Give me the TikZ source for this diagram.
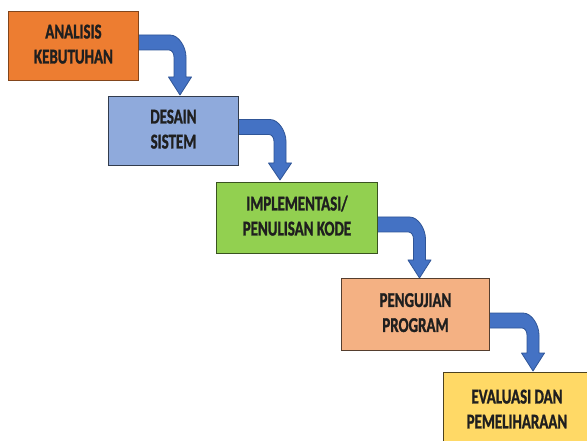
\documentclass[tikz,border=0pt]{standalone}
\usepackage{fontspec}
\setmainfont{Carlito}[BoldFont={Carlito Bold}, BoldFeatures={FakeBold=1.6}]
\usepackage{graphicx}
\usetikzlibrary{calc}

\definecolor{orangefill}{HTML}{ED7D31}
\definecolor{bluefill}{HTML}{8FAADC}
\definecolor{greenfill}{HTML}{92D050}
\definecolor{salmonfill}{HTML}{F4B183}
\definecolor{yellowfill}{HTML}{FFD966}
\definecolor{arrowfill}{HTML}{4472C4}
\definecolor{arrowline}{HTML}{2F5597}

% two centred lines, condensed horizontally
\newcommand{\steptext}[2]{\scalebox{0.71}[1]{\begin{tabular}{@{}c@{}}#1\\#2\end{tabular}}}

% bent block arrow: #1 start x, #2 shaft centre y, #3 stem centre x, #4 head base y, #5 tip y
\newcommand{\bentarrow}[5]{%
  \filldraw[blockarrow]
    (#1, #2-7.5) -- (#3+6-16, #2-7.5)
    .. controls (#3+6-7.2, #2-7.5) and (#3+6, #2-7.5+12.1) .. (#3+6, #2-7.5+22)
    -- (#3+6, #4) -- (#3+11.5, #4) -- (#3, #5) -- (#3-11.5, #4) -- (#3-6, #4)
    -- (#3-6, #2+7.5+7)
    .. controls (#3-6, #2+7.5+3.1) and (#3-6-2.2, #2+7.5) .. (#3-6-5, #2+7.5)
    -- (#1, #2+7.5) -- cycle;}

\tikzset{
  stepbox/.style={draw, line width=0.9pt, rectangle, anchor=north west,
    inner sep=0pt, font=\fontsize{21}{25}\selectfont\bfseries, text=black!88},
  blockarrow/.style={fill=arrowfill, draw=arrowline, line width=0.8pt, line join=round},
}

\begin{document}
\begin{tikzpicture}[x=1pt, y=-1pt]
\useasboundingbox (0,0) rectangle (587,441);
\fill[white] (0,0) rectangle (587,441);
\clip (0,0) rectangle (587,441);

% connectors between the stages
\bentarrow{134}{42.5}{180}{77}{95}
\bentarrow{234}{127}{280}{163}{180}
\bentarrow{373}{224.5}{419.5}{260}{278}
\bentarrow{485}{320.5}{533}{353}{371}

% stages
\node[stepbox, fill=orangefill, draw=orangefill!55!black,
  minimum width=130pt, minimum height=69pt] (b1) at (8,11)
  {\steptext{ANALISIS}{KEBUTUHAN}};
\node[stepbox, fill=bluefill, draw=bluefill!35!black,
  minimum width=130pt, minimum height=69pt] (b2) at (108,96)
  {\steptext{DESAIN}{SISTEM}};
\node[stepbox, fill=greenfill, draw=greenfill!40!black,
  minimum width=161pt, minimum height=71pt] (b3) at (216,182)
  {\steptext{IMPLEMENTASI/}{PENULISAN KODE}};
\node[stepbox, fill=salmonfill, draw=salmonfill!35!black,
  minimum width=148pt, minimum height=72pt] (b4) at (341,278)
  {\steptext{PENGUJIAN}{PROGRAM}};
\node[stepbox, fill=yellowfill, draw=yellowfill!30!black,
  minimum width=147pt, minimum height=77pt] (b5) at (443,372)
  {\steptext{EVALUASI DAN}{PEMELIHARAAN}};
\end{tikzpicture}
\end{document}
